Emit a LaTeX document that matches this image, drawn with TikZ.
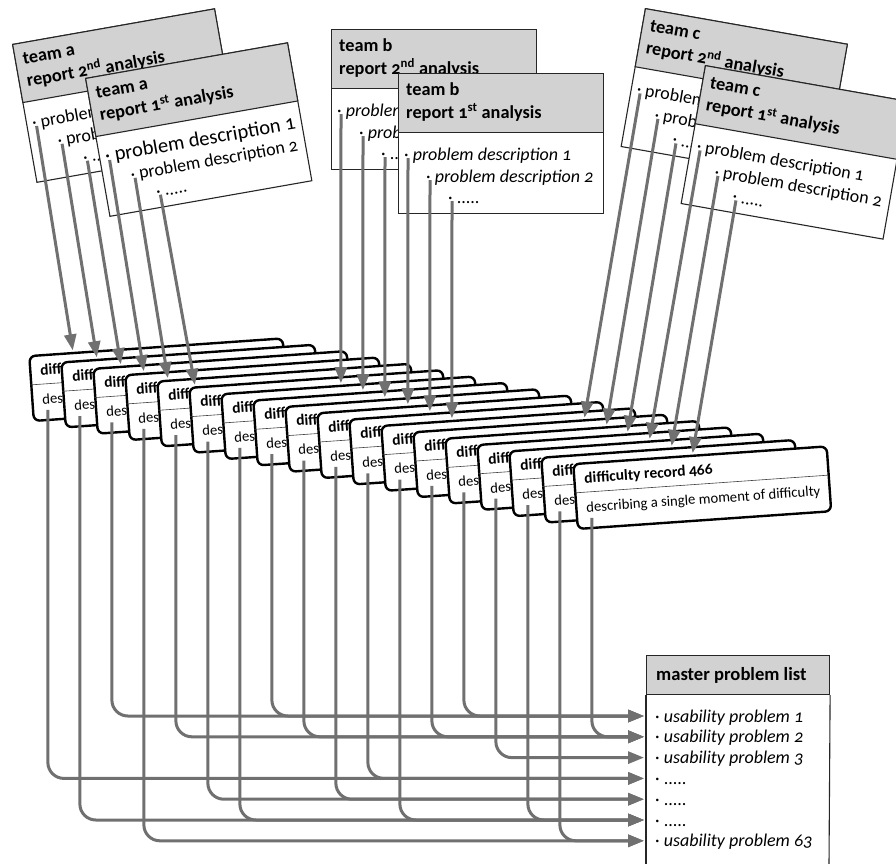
\documentclass[tikz,border=0pt]{standalone}
\usepackage{fontspec}
\setmainfont{Carlito}[Numbers=OldStyle]
\usetikzlibrary{arrows.meta}
\definecolor{flowgray}{HTML}{707070}
\definecolor{headgray}{HTML}{D2D2D2}
\tikzset{
  flow/.style={draw=flowgray, line width=3pt, rounded corners=16pt},
  flowarrow/.style={flow, -{Triangle[length=16pt,width=12pt]}},
  repbox/.style={draw=black!85, line width=1.1pt, fill=white, inner sep=0pt, anchor=north west},
  rephead/.style={draw=black!85, line width=1.1pt, fill=headgray, inner sep=0pt, anchor=north west},
  headtext/.style={anchor=base west, inner sep=0pt, font=\fontsize{18.3}{21}\selectfont\bfseries},
  itemtext/.style={anchor=base west, inner sep=0pt, font=\fontsize{18}{21}\selectfont},
  cardbox/.style={draw=black, line width=2.4pt, fill=white, rounded corners=6pt, inner sep=0pt, anchor=north west},
  cardhead/.style={anchor=base west, inner sep=0pt, font=\fontsize{15.5}{18}\selectfont\bfseries},
  cardtext/.style={anchor=base west, inner sep=0pt, font=\fontsize{14.7}{17}\selectfont},
}
% report box: #1 id, #2 position, #3 angle, #4 team, #5 ordinal, #6 item shape, #7 size of first item
\newcommand\myreport[7]{%
  \begin{scope}[shift={#2}, rotate=#3, transform shape]
    \node[repbox, minimum width=205pt, minimum height=140pt] (#1) at (0,0) {};
    \node[rephead, minimum width=205pt, minimum height=59pt] (#1h) at (0,0) {};
    \node[headtext] (#1t) at (8,22) {team #4};
    \node[headtext] (#1r) at (8,45) {report #5 analysis};
    \node[itemtext, font=\fontsize{#7}{21}\selectfont] (#1i1) at (6,87) {· #6{problem description 1}};
    \node[itemtext] (#1i2) at (28,109) {· #6{problem description 2}};
    \node[itemtext] (#1i3) at (50,130) {· .....};
    \coordinate (#1b1) at (10,85);
    \coordinate (#1b2) at (32,107);
    \coordinate (#1b3) at (54,128);
  \end{scope}}
\newcommand\upr[1]{#1}
\begin{document}
\begin{tikzpicture}[x=1pt, y=-1pt]
\useasboundingbox (0,0) rectangle (896,863);

% ---- reports
\myreport{atwo}{(12,44)}{10}{a}{2\textsuperscript{nd}}{\upr}{18}
\myreport{aone}{(85,78)}{10}{a}{1\textsuperscript{st}}{\upr}{20.5}
\myreport{btwo}{(331,29)}{0}{b}{2\textsuperscript{nd}}{\textit}{18}
\myreport{bone}{(398,73)}{0}{b}{1\textsuperscript{st}}{\textit}{18}
\myreport{ctwo}{(645,8)}{-10}{c}{2\textsuperscript{nd}}{\upr}{18}
\myreport{cone}{(705,65)}{-10}{c}{1\textsuperscript{st}}{\upr}{18}

% ---- difficulty records
\foreach \i/\tp in {0/45,1/37,2/29,3/20,4/12,5/7,6/121.3,7/111.3,8/101.2,9/92.2,10/82.2,11/72.2,12/173,13/163,14/152,15/142,16/132} {
  \begin{scope}[shift={(28+32*\i, 355+6.35*\i)}, rotate=4, transform shape]
    \node[cardbox, minimum width=254pt, minimum height=65pt] (card\i) at (0,0) {};
    \draw[line width=0.6pt, black!75] (0,30) -- (254,30);
    \node[cardhead] (cardh\i) at (11,21) {diff};
    \node[cardtext] (cardd\i) at (11,50) {des};
    \coordinate (tip\i) at (\tp,-1.5);
    \coordinate (out\i) at (16,56);
  \end{scope}
}
\begin{scope}[shift={(572,463)}, rotate=4, transform shape]
  \node[cardbox, minimum width=254pt, minimum height=65pt] (card17) at (0,0) {};
  \draw[line width=0.6pt, black!75] (0,30) -- (254,30);
  \node[cardhead] (cardh17) at (11,21) {difficulty record 466};
  \node[cardtext] (cardd17) at (11,50) {describing a single moment of difficulty};
  \coordinate (tip17) at (121,-1.5);
  \coordinate (out17) at (16,56);
\end{scope}

% ---- master problem list
\node[rephead, minimum width=183pt, minimum height=39pt] (mhead) at (646,655) {};
\draw[draw=black!85, line width=1.1pt] (mhead.south west) -- (646,864);
\draw[draw=black!85, line width=1.1pt] (mhead.south east) -- (829,864);
\node[headtext, font=\fontsize{18.6}{21}\selectfont\bfseries] (mtitle) at (656,680) {master problem list};
\foreach \k/\txt in {0/{\textit{usability problem 1}},1/{\textit{usability problem 2}},2/{\textit{usability problem 3}},3/{.....},4/{.....},5/{.....},6/{\textit{usability problem 63}}} {
  \node[itemtext] (m\k) at (655,722+20.8*\k) {· \txt};
  \coordinate (row\k) at (644,716+20.8*\k);
}

% ---- report -> record arrows
\draw[flowarrow] (atwob1) -- (tip0);
\draw[flowarrow] (atwob2) -- (tip1);
\draw[flowarrow] (atwob3) -- (tip2);
\draw[flowarrow] (aoneb1) -- (tip3);
\draw[flowarrow] (aoneb2) -- (tip4);
\draw[flowarrow] (aoneb3) -- (tip5);
\draw[flowarrow] (btwob1) -- (tip6);
\draw[flowarrow] (btwob2) -- (tip7);
\draw[flowarrow] (btwob3) -- (tip8);
\draw[flowarrow] (boneb1) -- (tip9);
\draw[flowarrow] (boneb2) -- (tip10);
\draw[flowarrow] (boneb3) -- (tip11);
\draw[flowarrow] (ctwob1) -- (tip12);
\draw[flowarrow] (ctwob2) -- (tip13);
\draw[flowarrow] (ctwob3) -- (tip14);
\draw[flowarrow] (coneb1) -- (tip15);
\draw[flowarrow] (coneb2) -- (tip16);
\draw[flowarrow] (coneb3) -- (tip17);

% ---- record -> master list arrows
\foreach \i/\r in {0/3,1/5,2/0,3/6,4/1,5/4,6/5,7/0,8/1,9/4,10/3,11/5,12/1,13/0,14/2,15/5,16/6,17/1}
  \draw[flowarrow] (out\i) |- (row\r);
\end{tikzpicture}
\end{document}
